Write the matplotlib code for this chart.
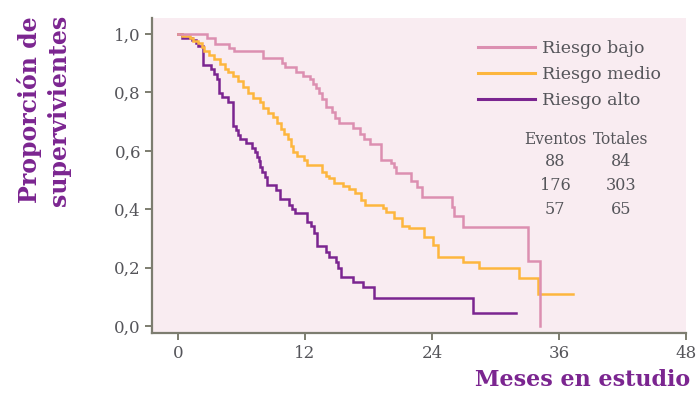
import matplotlib
matplotlib.use("Agg")
import matplotlib.pyplot as plt

plt.rcParams['font.family'] = ['DejaVu Serif']

# ---- data (months, survival proportion) ----
bajo_t = [0, 2.74, 3.50, 4.82, 5.29, 8.03, 9.83, 10.11, 11.15, 11.84, 12.47, 12.78,
          13.04, 13.29, 13.61, 13.98, 14.55, 14.84, 15.18, 16.51, 17.20, 17.58, 18.14,
          19.15, 20.13, 20.41, 20.60, 21.99, 22.54, 23.03, 25.89, 26.11, 26.96, 33.04, 34.21]
bajo_s = [1.0, 0.986, 0.966, 0.952, 0.942, 0.918, 0.901, 0.887, 0.870, 0.857, 0.845, 0.829,
          0.814, 0.797, 0.777, 0.751, 0.732, 0.711, 0.694, 0.677, 0.658, 0.639, 0.622,
          0.568, 0.557, 0.543, 0.524, 0.498, 0.476, 0.443, 0.409, 0.377, 0.340, 0.224, 0.0]

medio_t = [0, 0.35, 1.13, 1.45, 1.92, 2.24, 2.49, 2.96, 3.40, 3.97, 4.44, 4.75, 5.17, 5.70,
           6.17, 6.59, 7.06, 7.75, 8.06, 8.46, 8.98, 9.35, 9.73, 10.06, 10.39, 10.63, 10.91,
           11.22, 11.91, 12.16, 13.56, 13.94, 14.27, 14.74, 15.59, 16.16, 16.72, 17.26, 17.67,
           19.34, 19.65, 20.41, 21.14, 21.87, 23.26, 24.07, 24.54, 26.96, 28.47, 32.25, 34.05, 37.30]
medio_s = [1.0, 0.994, 0.985, 0.977, 0.968, 0.957, 0.942, 0.928, 0.913, 0.896, 0.879, 0.869,
           0.857, 0.839, 0.820, 0.799, 0.782, 0.766, 0.748, 0.731, 0.717, 0.696, 0.674, 0.657,
           0.639, 0.616, 0.597, 0.582, 0.568, 0.551, 0.528, 0.515, 0.506, 0.490, 0.479, 0.468,
           0.457, 0.433, 0.414, 0.403, 0.389, 0.369, 0.344, 0.337, 0.304, 0.277, 0.236, 0.219,
           0.200, 0.165, 0.109, 0.109]

alto_t = [0, 0.35, 1.32, 1.70, 1.92, 2.39, 3.12, 3.43, 3.69, 3.90, 4.16, 4.75, 5.20, 5.48,
          5.70, 5.89, 6.43, 6.99, 7.23, 7.44, 7.61, 7.77, 7.98, 8.22, 8.36, 9.26, 9.64, 10.52,
          10.74, 11.06, 12.19, 12.61, 12.85, 13.11, 13.98, 14.25, 14.96, 15.15, 15.40, 16.51,
          17.51, 18.52, 27.85, 31.94]
alto_s = [1.0, 0.987, 0.979, 0.971, 0.959, 0.894, 0.879, 0.862, 0.846, 0.798, 0.783, 0.768,
          0.685, 0.671, 0.654, 0.639, 0.626, 0.611, 0.596, 0.580, 0.565, 0.546, 0.528, 0.510,
          0.483, 0.466, 0.434, 0.416, 0.400, 0.386, 0.355, 0.341, 0.317, 0.273, 0.254, 0.236,
          0.220, 0.200, 0.167, 0.152, 0.133, 0.095, 0.046, 0.046]

labels = ["Riesgo bajo", "Riesgo medio", "Riesgo alto"]
colors = ["#dc8fb1", "#fdb63e", "#7b2590"]
eventos = [88, 176, 57]
totales = [84, 303, 65]
xticks = [0, 12, 24, 36, 48]
yticks = [0.0, 0.2, 0.4, 0.6, 0.8, 1.0]
ytick_labels = ["0,0", "0,2", "0,4", "0,6", "0,8", "1,0"]

# ---- figure ----
fig = plt.figure(figsize=(6.98, 3.93), dpi=100)
fig.patch.set_facecolor("white")
ax = fig.add_axes([152/698, 1-333/393, (686-152)/698, (333-18)/393])
ax.set_facecolor("#f9ecf1")

series = [(bajo_t, bajo_s), (medio_t, medio_s), (alto_t, alto_s)]
zorders = [4, 3, 2]
for (t, s), lab, c, z in zip(series, labels, colors, zorders):
    ax.plot(t, s, drawstyle="steps-post", color=c, lw=1.8, label=lab, zorder=z,
            solid_joinstyle="miter")

ax.set_xlim(-2.46, 48)
ax.set_ylim(-0.024, 1.055)
ax.set_xticks(xticks)
ax.set_xticklabels([str(v) for v in xticks])
ax.set_yticks(yticks)
ax.set_yticklabels(ytick_labels)

spine_c = "#7d7d70"
for side in ["top", "right"]:
    ax.spines[side].set_visible(False)
for side in ["left", "bottom"]:
    ax.spines[side].set_color(spine_c)
    ax.spines[side].set_linewidth(1.6)
ax.tick_params(axis="both", colors=spine_c, length=5, width=1.4, labelsize=12,
               labelcolor="#55555a", direction="out")
ax.tick_params(axis="x", pad=4)
ax.tick_params(axis="y", pad=3)

leg = ax.legend(loc="upper left", bbox_to_anchor=(478/698, 1-40/393),
                bbox_transform=fig.transFigure, frameon=False, fontsize=12.5,
                handlelength=3.3, handletextpad=0.4, labelspacing=0.52,
                borderpad=0, borderaxespad=0)
for txt in leg.get_texts():
    txt.set_color("#55555a")
for line in leg.get_lines():
    line.set_linewidth(2.2)

# events / totals table
fig.text(555/698, 1-139/393, "Eventos", ha="center", va="center", fontsize=11.2,
         color="#55555a")
fig.text(621/698, 1-139/393, "Totales", ha="center", va="center", fontsize=11.2,
         color="#55555a")
row_y = [162, 186, 209]
for e, tot, yy in zip(eventos, totales, row_y):
    fig.text(555/698, 1-yy/393, str(e), ha="center", va="center", fontsize=11.5,
             color="#55555a")
    fig.text(621/698, 1-yy/393, str(tot), ha="center", va="center", fontsize=11.5,
             color="#55555a")

purple = "#7b2590"
fig.text(690/698, 1-380/393, "Meses en estudio", ha="right", va="center",
         fontsize=16, fontweight="bold", color=purple)
fig.text(44/698, 1-110/393, "Proporción de\nsupervivientes", ha="center", va="center",
         rotation=90, multialignment="center", fontsize=17, fontweight="bold",
         color=purple, linespacing=1.3)

fig.savefig("out.png", dpi=100, facecolor="white")
